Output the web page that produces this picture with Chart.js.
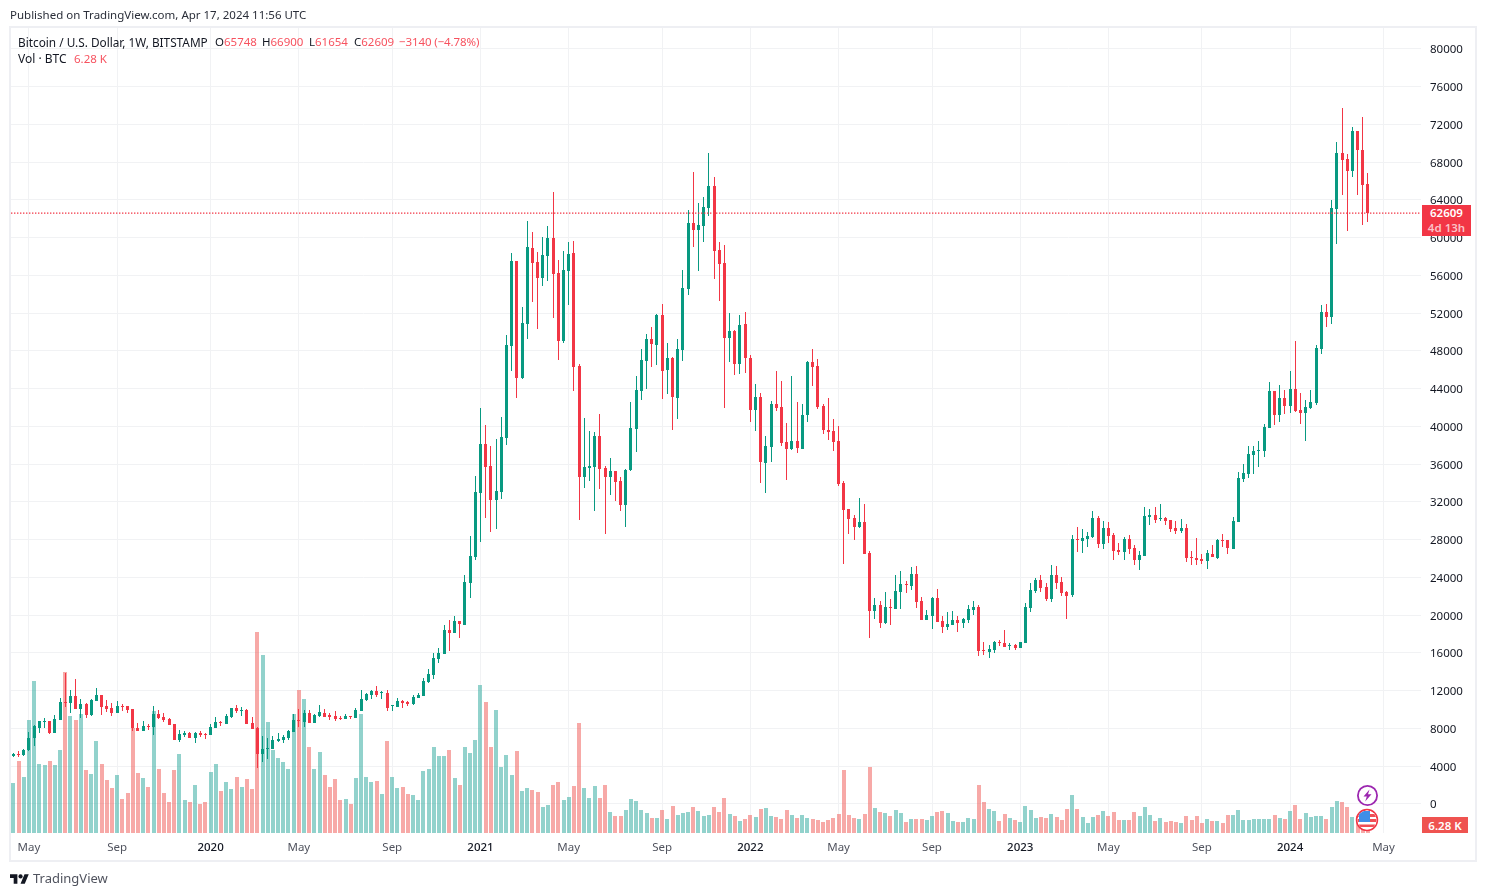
<!DOCTYPE html>
<html>
<head>
<meta charset="utf-8">
<title>BTCUSD 1W</title>
<script src="https://cdn.jsdelivr.net/npm/chart.js@4/dist/chart.umd.js"></script>
<style>
    html, body { margin: 0; padding: 0; background: #fff; }
    body { width: 1486px; height: 896px; position: relative; overflow: hidden; font-family: "Noto Sans", sans-serif; }
    canvas { display: block; position: absolute; left: 0; top: 0; }
    .frame { position: absolute; left: 9px; top: 26px; width: 1464px; height: 832px; border: 2px solid #eeeff3; }
    .txt { position: absolute; white-space: nowrap; font-size: 11.5px; line-height: 16px; color: #131722; }
    .red { color: #f7525f; }
    .tag { position: absolute; left: 1422px; color: #fff; font-size: 11.5px; line-height: 15px; text-align: center; font-weight: 600; }
    svg { position: absolute; }
</style>
</head>
<body>
<canvas id="btcChart" width="1486" height="896"></canvas>
<div class="frame"></div>

<div class="txt" style="left:10px;top:7px;color:#2a2e39;">Published on TradingView.com, Apr 17, 2024 11:56 UTC</div>
<div class="txt" style="left:18px;top:34px;font-size:11.8px;">Bitcoin / U.S. Dollar, 1W, BITSTAMP</div>
<div class="txt" style="left:215px;top:34px;">O<span class="red">65748</span></div>
<div class="txt" style="left:262px;top:34px;">H<span class="red">66900</span></div>
<div class="txt" style="left:309px;top:34px;">L<span class="red">61654</span></div>
<div class="txt" style="left:354px;top:34px;">C<span class="red">62609</span></div>
<div class="txt red" style="left:399px;top:34px;letter-spacing:-0.1px;">−3140 (−4.78%)</div>
<div class="txt" style="left:18px;top:51px;font-size:12px;">Vol · BTC</div>
<div class="txt red" style="left:74px;top:51px;">6.28 K</div>

<div class="tag" style="top:205px;width:49px;height:31px;background:#f23645;">62609<br><span style="color:#fbc3c8;">4d 13h</span></div>
<div class="tag" style="top:817px;width:46px;height:16px;background:#ef5350;line-height:17px;">6.28 K</div>

<!-- event markers above the volume bars -->
<svg style="left:1356px;top:784px;" width="23" height="23" viewBox="0 0 23 23">
    <circle cx="11.5" cy="11.5" r="9.6" fill="#fff" stroke="#9c27b0" stroke-width="1.8"/>
    <path d="M13.5 5.5 L7.5 12.5 H10.8 L9.2 17.5 L15.5 10.2 H12 Z" fill="#9c27b0"/>
</svg>
<svg style="left:1355px;top:808px;" width="24" height="24" viewBox="0 0 24 24">
    <defs><clipPath id="flagClip"><circle cx="12" cy="12" r="9.6"/></clipPath></defs>
    <circle cx="12" cy="12" r="10.4" fill="#fff" stroke="#f23645" stroke-width="1.6"/>
    <g clip-path="url(#flagClip)">
        <rect x="2" y="2" width="20" height="20" fill="#fff"/>
        <rect x="2" y="6" width="20" height="3" fill="#f04e55"/>
        <rect x="2" y="11" width="20" height="3" fill="#f04e55"/>
        <rect x="2" y="16.5" width="20" height="2.5" fill="#f04e55"/>
        <rect x="4" y="3" width="11" height="11" fill="#3f8ee8"/>
    </g>
</svg>

<svg style="left:10px;top:873px;" width="19" height="11" viewBox="0 0 36 20">
    <path d="M14 20H7V9H0V2h14v18zM28 20h-8l7.5-18h8L28 20z" fill="#131722"/>
    <circle cx="20" cy="6" r="4" fill="#131722"/>
</svg>
<div class="txt" style="left:33px;top:870px;font-size:13px;color:#50535e;">TradingView</div>

<script>
// Weekly BTCUSD candles starting at the week of 15 Apr 2019
const firstWeek = Date.UTC(2019, 3, 15);
const weekMs = 7 * 24 * 3600 * 1000;

const opens = [
    5054,5340,5160,5700,6950,8060,8700,8760,7530,8900,
    10810,10740,11450,10100,10600,9400,10950,11550,10390,10180,
    9680,10390,10390,10070,8060,7740,8270,8170,9540,9220,
    9010,8480,6790,7320,7530,7000,7530,7450,7320,8060,
    8690,8480,9220,10180,9900,9960,8580,8060,5300,5830,
    5830,6720,6790,7000,7630,8900,8690,9650,8580,9330,
    9680,9400,9290,9150,9050,9330,9120,9890,11030,11550,
    11980,11730,11770,10390,10280,10920,10850,10600,11240,11450,
    12930,13670,15370,15900,18450,18130,19400,18980,23430,26180,
    32970,38160,35830,32230,33075,38800,48550,57560,45160,50880,
    58930,57450,55760,58090,59996,56290,49080,56500,58400,46430,
    34660,35620,35720,39010,35620,34660,35300,34240,31700,35410,
    39750,43780,46960,49290,48650,51840,46010,47280,43040,48130,
    54590,61590,60850,61270,63180,65510,58720,57350,49400,50140,
    46640,50880,47280,41760,43140,36150,37840,42400,42080,38370,
    37630,38480,37630,41240,46850,46430,42190,39650,39540,38480,
    34030,31270,30320,29360,29890,26610,20460,21100,19190,20880,
    20670,22470,23360,23110,24380,21520,19510,19930,21840,19400,
    18760,18970,19510,19190,19510,20560,20880,16330,16110,16330,
    17210,17070,16750,16860,16540,17070,20780,22580,23740,23000,
    21730,24270,23530,22470,22160,28090,27880,28090,28300,30320,
    27560,29260,28520,26920,26710,28090,27140,25860,26290,30420,
    30640,30210,30320,30110,29260,28940,29260,26190,26080,25970,
    25760,26500,26080,27990,27990,27030,29890,34450,34980,37000,
    37420,37420,39860,43780,41240,43040,42190,43990,41770,41450,
    41980,42510,48230,52150,51620,63070,69010,68370,67100,71340,69325,65748
];
const highs = [
    5408,5640,5800,7640,8340,8760,9080,8800,9440,11200,
    13920,12090,13250,11130,10670,11130,12300,11550,11030,10670,
    10920,10600,10390,10070,8580,8800,8480,10390,9960,9650,
    9120,8480,7850,7740,7630,7600,7740,7530,8480,9220,
    8800,9540,10180,10500,10280,10070,9220,8160,7210,6990,
    7210,7530,7320,7850,9540,10070,9960,9960,9540,10500,
    10070,9650,9860,9330,9540,9330,10180,12090,11770,12090,
    12500,11980,12090,10500,11240,11030,10950,11550,11770,13350,
    14310,15980,16540,18980,19510,19930,19400,24280,28410,34770,
    41980,40180,37950,38690,41020,49715,58410,57560,52680,61800,
    60630,58510,60100,61270,64870,57670,58620,59570,59680,46640,
    40920,39540,39435,41340,35830,36680,35300,34660,35510,42610,
    45370,48230,49820,50560,51940,53000,48870,47390,49290,56600,
    62960,66990,63700,64340,69000,66460,59570,59250,52050,50250,
    51830,52150,47600,44520,43570,39010,42720,45900,44840,40390,
    45370,42610,42400,46960,48230,47170,42400,43040,40810,40070,
    34240,31270,30640,32440,31800,26820,21840,21520,22470,21730,
    24270,24700,23640,25120,25230,21940,20570,21940,22790,19930,
    20350,20460,19930,19720,21100,21520,21100,17170,16860,17280,
    17390,18450,17070,16960,17170,21310,23430,23960,24270,23430,
    25330,25230,24060,22580,28510,29360,29150,28830,31060,30530,
    30000,29900,28730,27670,28300,28520,27460,26820,31480,31270,
    31480,31800,30420,30110,30000,30210,29680,26820,28200,26500,
    26920,27460,28090,28620,27990,30420,35190,36040,37950,37950,
    38480,40280,44730,43780,44410,43880,45900,49080,43570,42830,
    43890,48660,52900,53000,64020,70170,73780,68900,71760,71340,72820,66900
];
const lows = [
    4984,5020,5050,5600,6150,7560,8060,7420,7530,8900,
    10250,9680,10070,9120,9150,9330,10950,9430,9750,9330,
    9680,9900,9680,7740,7740,7740,7850,7320,9050,8730,
    8340,6790,6570,7100,7000,6470,7100,6890,7320,8060,
    8270,8480,9150,9650,9330,8480,7950,3810,4450,4770,
    5790,6610,6500,6790,7630,8160,8160,8580,8580,9220,
    9220,8900,8800,8900,9010,8980,9120,9890,10920,11130,
    11340,11130,9860,9890,10250,10180,10390,10490,11240,11450,
    12830,13250,14950,15900,16220,18130,17600,18980,21840,25870,
    27770,30320,28840,29150,32330,38060,45900,43040,45050,49290,
    53210,50350,54910,55440,51520,47070,48870,52900,43780,30110,
    33500,34240,31060,33390,28620,32760,32120,31060,29360,35300,
    37315,42830,43990,46320,46530,42930,43460,39650,40810,46960,
    53960,59040,56500,59570,62330,55650,53320,41980,46850,45480,
    45580,45690,40490,39540,34030,32970,36250,41660,37950,34350,
    37530,37210,37630,40490,44310,41870,39220,38590,37420,33710,
    25440,28620,27990,29260,26500,17600,19610,18660,19080,18970,
    20670,20670,22370,22680,20780,19510,19510,18550,19300,18130,
    18450,18970,18230,18660,19190,20030,15690,15800,15480,16010,
    16750,16640,16320,16320,16540,17070,20350,22370,22470,21520,
    21410,22790,22050,19610,21940,26710,26610,27240,28200,27140,
    27030,27670,25860,26400,25860,26500,25330,24810,26290,29580,
    29790,30000,29580,28830,28620,28730,25650,25330,25330,25440,
    24910,26190,25970,27240,26500,27030,29890,34130,34560,34980,
    35720,36780,39860,40180,40490,41340,41450,41550,40280,38480,
    41870,42300,47700,50560,50880,59360,64550,60740,66460,64550,61370,61654
];
const closes = [
    5337,5160,5690,7000,8270,8760,8800,7490,9010,10810,
    10740,11450,10100,10600,9400,11030,11550,10280,10070,9680,
    10390,10320,9960,8090,7770,8270,8200,9540,9120,8900,
    8380,6790,7420,7530,7030,7530,7320,7350,8170,8690,
    8580,9330,10180,9860,10000,8480,7950,5300,5830,5930,
    6790,6890,7100,7740,8900,8800,9650,8580,9430,9750,
    9220,9220,9010,9050,9330,9220,9960,11130,11660,11980,
    11550,11840,10180,10460,10920,10740,10640,11340,11550,13040,
    13780,15480,16010,18450,18130,19400,19080,23540,26290,33075,
    38160,35720,32230,33180,38900,48655,57560,45160,50990,59040,
    57350,55760,58200,59996,56180,49080,56600,58300,46320,34660,
    35720,35830,39010,35510,34660,35300,34135,31700,35410,39860,
    43890,47070,49290,48760,51840,45900,47280,43140,48230,54700,
    61590,60850,61380,63280,65510,58620,57240,49400,50140,46640,
    50780,47280,41760,43140,36250,37950,42400,41980,38270,37630,
    38480,37740,41240,46850,46320,42080,39650,39440,38370,33920,
    31170,30210,29360,29890,26500,20460,21100,19190,20880,20740,
    22580,23320,23220,24380,21410,19510,20040,21840,19300,18760,
    19080,19510,19190,19610,20670,20880,16220,16220,16430,17170,
    17100,16640,16860,16540,17170,20880,22690,23740,22900,21730,
    24270,23430,22370,22050,28090,28020,28200,28410,30320,27560,
    29260,28410,26820,26710,28090,27030,25860,26400,30530,30640,
    30110,30320,30000,29150,28940,29260,26080,26080,25860,25760,
    26610,26190,27990,27880,27140,30000,34560,35090,37100,37420,
    37530,39960,43780,41240,43040,42190,43990,41660,41450,42085,
    42620,48340,52150,51620,63180,69010,68270,67100,71340,69325,65610,62609
];
// weekly volume, thousands of BTC
const volumes = [
    31.0,44.8,34.8,70.4,94.8,42.9,42.3,44.8,42.3,51.7,
    100.4,72.9,70.4,74.2,39.2,36.7,57.3,42.9,32.9,27.9,
    36.0,21.0,24.8,65.4,37.3,34.2,28.5,76.0,39.8,24.8,
    19.2,39.2,49.2,20.4,19.2,29.8,17.9,19.2,37.9,42.9,
    26.0,31.7,27.3,34.8,28.5,33.5,27.3,125.4,111.0,69.2,
    51.7,46.7,44.2,39.8,74.2,89.2,83.5,53.5,39.8,50.4,
    36.0,28.5,33.5,20.4,21.0,17.9,34.2,74.2,34.8,31.7,
    32.3,24.2,57.3,34.8,27.9,28.8,24.4,23.8,20.6,38.8,
    40.0,53.8,48.1,48.1,51.9,34.4,30.0,53.8,50.0,58.1,
    92.5,81.9,53.8,76.9,41.3,48.8,36.3,51.3,26.3,28.1,
    26.9,25.6,16.3,17.5,30.0,31.9,20.6,22.5,29.4,68.8,
    28.1,21.9,29.4,21.9,30.0,13.1,10.6,10.6,14.4,21.3,
    20.0,14.4,12.5,9.4,9.4,14.4,8.8,16.9,11.3,12.5,
    13.1,16.3,13.8,10.6,11.3,16.3,13.1,21.9,11.9,10.6,
    7.5,8.8,11.3,10.0,15.0,15.6,10.6,10.0,8.8,14.4,
    11.3,9.4,11.3,9.4,8.8,8.1,6.9,8.1,9.4,11.9,
    39.4,11.3,9.4,8.8,11.9,41.3,15.6,13.1,12.5,10.6,
    14.4,12.5,6.9,8.8,8.8,8.8,8.1,10.6,13.1,13.8,
    12.5,7.5,6.9,6.9,9.4,8.8,30.0,19.4,15.0,13.8,
    7.5,11.9,9.4,8.1,6.9,16.9,14.4,9.4,10.0,9.4,
    11.9,10.0,8.1,15.0,23.8,15.0,10.0,6.3,10.0,11.3,
    13.8,10.6,13.1,8.1,8.1,8.1,13.1,10.6,16.3,11.3,
    7.5,9.4,6.9,7.5,6.9,6.3,10.6,8.1,10.6,6.3,
    8.8,7.5,7.5,6.3,11.3,11.3,14.4,8.1,8.1,8.8,
    8.8,8.8,8.8,11.3,9.4,8.8,13.8,17.5,8.8,12.5,
    10.0,10.6,10.6,8.8,16.3,20.0,19.4,16.3,10.0,10.6,11.0,6.28
];

const priceTicks = [0,4000,8000,12000,16000,20000,24000,28000,32000,36000,40000,
    44000,48000,52000,56000,60000,64000,68000,72000,76000,80000];
const timeTickDates = ['2019-05-06','2019-09-02','2020-01-06','2020-05-04','2020-09-07','2021-01-04',
    '2021-05-03','2021-09-06','2022-01-03','2022-05-02','2022-09-05','2023-01-02','2023-05-01',
    '2023-09-04','2024-01-01','2024-05-06'];
const timeTickLabels = ['May','Sep','2020','May','Sep','2021','May','Sep','2022','May','Sep','2023','May','Sep','2024','May'];

const GREEN = '#089981';
const RED = '#f23645';
const GREEN_VOL = 'rgba(38,166,154,0.5)';
const RED_VOL = 'rgba(239,83,80,0.5)';
const GRID = '#f1f2f4';

// visible week range of the pane
const X_MIN = -0.46;
const X_MAX = 271.22;

const isUp = i => closes[i] >= opens[i];
const timeTickIndex = timeTickDates.map(d => (Date.parse(d) - firstWeek) / weekMs);
const lastClose = closes[closes.length - 1];

const bodies = opens.map((o, i) => ({ x: i, y: [Math.min(o, closes[i]), Math.max(o, closes[i])] }));
const wicks = lows.map((l, i) => ({ x: i, y: [l, highs[i]] }));
const volBars = volumes.map((v, i) => ({ x: i, y: v }));

// keep candles on whole pixels so wicks stay 1px sharp
const snapBars = {
    id: 'snapBars',
    beforeDatasetsDraw(chart) {
        chart.data.datasets.forEach((ds, idx) => {
            const meta = chart.getDatasetMeta(idx);
            if (meta.type !== 'bar') return;
            meta.data.forEach(el => {
                el.x = el.width % 2 ? Math.floor(el.x) + 0.5 : Math.round(el.x);
                el.y = Math.round(el.y);
                el.base = Math.round(el.base);
                if (el.y === el.base) el.y -= 1;
            });
        });
    }
};

new Chart(document.getElementById('btcChart'), {
    type: 'bar',
    plugins: [snapBars],
    data: {
        datasets: [
            {
                type: 'line',
                data: [{ x: X_MIN, y: lastClose }, { x: X_MAX, y: lastClose }],
                borderColor: RED,
                borderWidth: 1.4,
                borderDash: [1.4, 1.6],
                pointRadius: 0,
                yAxisID: 'y',
                order: 0
            },
            {
                label: 'body',
                data: bodies,
                backgroundColor: opens.map((o, i) => isUp(i) ? GREEN : RED),
                barThickness: 3,
                inflateAmount: 0,
                minBarLength: 1,
                grouped: false,
                yAxisID: 'y',
                order: 1
            },
            {
                label: 'wick',
                data: wicks,
                backgroundColor: opens.map((o, i) => isUp(i) ? GREEN : RED),
                barThickness: 1,
                inflateAmount: 0,
                grouped: false,
                yAxisID: 'y',
                order: 2
            },
            {
                label: 'volume',
                data: volBars,
                backgroundColor: opens.map((o, i) => isUp(i) ? GREEN_VOL : RED_VOL),
                barThickness: 4,
                inflateAmount: 0,
                grouped: false,
                yAxisID: 'yVol',
                order: 3
            }
        ]
    },
    options: {
        responsive: false,
        animation: false,
        events: [],
        layout: { padding: { left: 11, top: 27, right: 0, bottom: 38 } },
        plugins: { legend: { display: false }, tooltip: { enabled: false } },
        scales: {
            x: {
                type: 'linear',
                min: X_MIN,
                max: X_MAX,
                offset: false,
                afterBuildTicks: scale => { scale.ticks = timeTickIndex.map(v => ({ value: v })); },
                afterFit: scale => { scale.height = 25; },
                grid: { color: GRID, offset: false, drawTicks: false },
                border: { display: false },
                ticks: {
                    autoSkip: false,
                    maxRotation: 0,
                    padding: 8,
                    callback: (value, idx) => timeTickLabels[idx],
                    color: ctx => /^\d/.test(timeTickLabels[ctx.index]) ? '#131722' : '#50535e',
                    font: ctx => ({
                        family: '"Noto Sans", sans-serif',
                        size: 11.5,
                        weight: /^\d/.test(timeTickLabels[ctx.index]) ? '500' : '400'
                    })
                }
            },
            y: {
                position: 'right',
                min: -3073,
                max: 82331,
                afterBuildTicks: scale => { scale.ticks = priceTicks.map(v => ({ value: v })); },
                afterFit: scale => { scale.width = 65; },
                grid: { color: GRID, drawTicks: false },
                border: { display: false },
                ticks: {
                    padding: 9,
                    labelOffset: 1,
                    color: '#131722',
                    font: { family: '"Noto Sans", sans-serif', size: 11.5 },
                    callback: value => String(value)
                }
            },
            // volume sits in the same pane on its own hidden scale
            yVol: {
                display: false,
                min: 0,
                max: 503.75,
                grid: { display: false }
            }
        }
    }
});
</script>
</body>
</html>
